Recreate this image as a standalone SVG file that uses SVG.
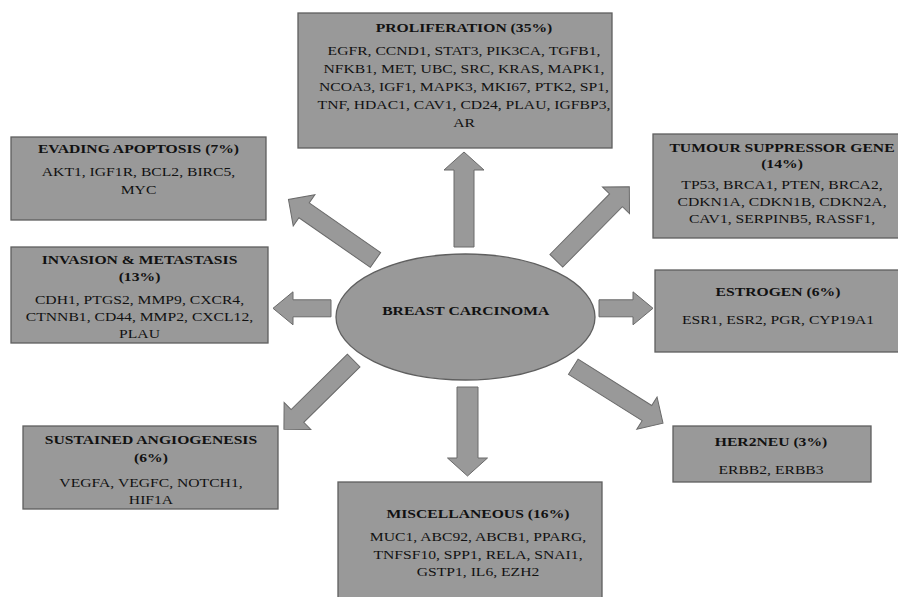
<svg xmlns="http://www.w3.org/2000/svg" width="898" height="597" viewBox="0 0 898 597">
<style>
.box{fill:#999999;stroke:#5f5f5f;stroke-width:1.3}
.arr{fill:#999999;stroke:#6a6a6a;stroke-width:1}
text{font-family:'Liberation Serif','DejaVu Serif',serif;font-size:13.5px;fill:#111;text-anchor:middle}
.b{font-weight:bold}
</style>
<rect width="898" height="597" fill="#ffffff"/>
<g id="connectors">
<polygon class="arr" transform="translate(464,247) rotate(-90)" points="0,-10 77,-10 77,-20 95,0 77,20 77,10 0,10"/>
<polygon class="arr" transform="translate(467.5,387) rotate(90)" points="0,-10.5 71,-10.5 71,-20 89,0 71,20 71,10.5 0,10.5"/>
<polygon class="arr" transform="translate(331,308.3) rotate(180)" points="0,-8.5 38,-8.5 38,-16.5 58,0 38,16.5 38,8.5 0,8.5"/>
<polygon class="arr" transform="translate(599,308.3)" points="0,-8.5 34,-8.5 34,-16.5 54,0 34,16.5 34,8.5 0,8.5"/>
<polygon class="arr" transform="translate(375.5,260) rotate(214.8)" points="0,-9 87,-9 87,-19 106,0 87,19 87,9 0,9"/>
<polygon class="arr" transform="translate(556.3,260.8) rotate(-45.4)" points="0,-9 85,-9 85,-19 104,0 85,19 85,9 0,9"/>
<polygon class="arr" transform="translate(353.7,360.5) rotate(135.4)" points="0,-9 79,-9 79,-19 98,0 79,19 79,9 0,9"/>
<polygon class="arr" transform="translate(573.3,366.7) rotate(32.2)" points="0,-9 87,-9 87,-19 106,0 87,19 87,9 0,9"/>
</g>
<g id="breast-carcinoma">
<ellipse class="box" cx="465.5" cy="317" rx="129.5" ry="63"/>
<g transform="translate(465.7,0) scale(1.16,1)"><text class="b" x="0" y="315.5">BREAST CARCINOMA</text></g>
</g>
<g id="proliferation">
<rect class="box" x="298" y="13" width="314" height="135"/>
<g transform="translate(464,0) scale(1.16,1)">
<text class="b" x="0" y="32.5">PROLIFERATION (35%)</text>
<text x="0" y="55">EGFR, CCND1, STAT3, PIK3CA, TGFB1,</text>
<text x="0" y="73">NFKB1, MET, UBC, SRC, KRAS, MAPK1,</text>
<text x="0" y="91">NCOA3, IGF1, MAPK3, MKI67, PTK2, SP1,</text>
<text x="0" y="109">TNF, HDAC1, CAV1, CD24, PLAU, IGFBP3,</text>
<text x="0" y="127">AR</text>
</g>
</g>
<g id="evading-apoptosis">
<rect class="box" x="11" y="137" width="255" height="83"/>
<g transform="translate(138.5,0) scale(1.16,1)">
<text class="b" x="0" y="153">EVADING APOPTOSIS (7%)</text>
<text x="0" y="176.5">AKT1, IGF1R, BCL2, BIRC5,</text>
<text x="0" y="194">MYC</text>
</g>
</g>
<g id="invasion-metastasis">
<rect class="box" x="11" y="247" width="257" height="96"/>
<g transform="translate(139.5,0) scale(1.16,1)">
<text class="b" x="0" y="264.5">INVASION &amp; METASTASIS</text>
<text class="b" x="0" y="281">(13%)</text>
<text x="0" y="304.5">CDH1, PTGS2, MMP9, CXCR4,</text>
<text x="0" y="321.5">CTNNB1, CD44, MMP2, CXCL12,</text>
<text x="0" y="338">PLAU</text>
</g>
</g>
<g id="tumour-suppressor-gene">
<rect class="box" x="653" y="134" width="258" height="104"/>
<g transform="translate(782,0) scale(1.16,1)">
<text class="b" x="0" y="152">TUMOUR SUPPRESSOR GENE</text>
<text class="b" x="0" y="168.5">(14%)</text>
<text x="0" y="189.5">TP53, BRCA1, PTEN, BRCA2,</text>
<text x="0" y="206.5">CDKN1A, CDKN1B, CDKN2A,</text>
<text x="0" y="223.5">CAV1, SERPINB5, RASSF1,</text>
</g>
</g>
<g id="estrogen">
<rect class="box" x="655" y="270" width="246" height="82"/>
<g transform="translate(778,0) scale(1.16,1)">
<text class="b" x="0" y="296">ESTROGEN (6%)</text>
<text x="0" y="324.5">ESR1, ESR2, PGR, CYP19A1</text>
</g>
</g>
<g id="sustained-angiogenesis">
<rect class="box" x="23" y="426" width="255" height="83"/>
<g transform="translate(151,0) scale(1.16,1)">
<text class="b" x="0" y="444.5">SUSTAINED ANGIOGENESIS</text>
<text class="b" x="0" y="462">(6%)</text>
<text x="0" y="487.5">VEGFA, VEGFC, NOTCH1,</text>
<text x="0" y="504">HIF1A</text>
</g>
</g>
<g id="miscellaneous">
<rect class="box" x="338" y="482" width="264" height="125"/>
<g transform="translate(478,0) scale(1.16,1)">
<text class="b" x="0" y="518">MISCELLANEOUS (16%)</text>
<text x="0" y="541.5">MUC1, ABC92, ABCB1, PPARG,</text>
<text x="0" y="559">TNFSF10, SPP1, RELA, SNAI1,</text>
<text x="0" y="576.5">GSTP1, IL6, EZH2</text>
</g>
</g>
<g id="her2neu">
<rect class="box" x="673" y="426" width="198" height="56"/>
<g transform="translate(771,0) scale(1.16,1)">
<text class="b" x="0" y="446">HER2NEU (3%)</text>
<text x="0" y="474.5">ERBB2, ERBB3</text>
</g>
</g>
</svg>
